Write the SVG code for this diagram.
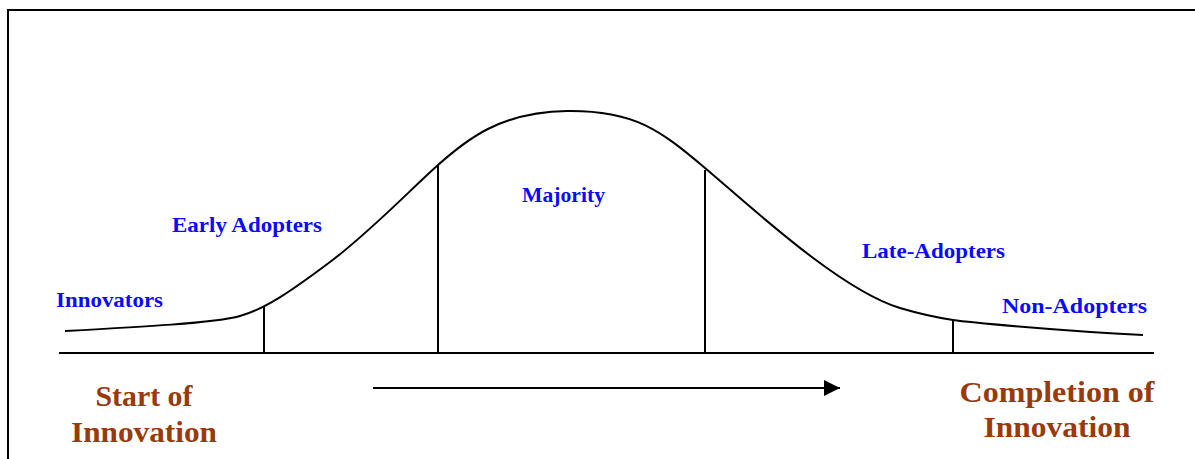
<svg xmlns="http://www.w3.org/2000/svg" width="1195" height="459" viewBox="0 0 1195 459">
<defs>
<style>
.ln{stroke:#000;stroke-width:2;fill:none}
.lbl{font-family:"Liberation Serif",serif;font-weight:bold;font-size:21px;fill:#0a0aff}
.big{font-family:"Liberation Serif",serif;font-weight:bold;font-size:30px;fill:#983a0c;text-anchor:middle}
</style>
<marker id="ah" markerWidth="16" markerHeight="16" refX="16" refY="8" orient="auto" markerUnits="userSpaceOnUse">
<path d="M0,0 L16,8 L0,16 Z" fill="#000"/>
</marker>
</defs>
<rect width="1195" height="459" fill="#fff"/>
<path class="ln" d="M8,459 L8,10 L1195,10"/>
<g id="axis">
<line class="ln" x1="59" y1="353" x2="1154" y2="353"/>
</g>
<g id="curve">
<path class="ln" d="M65,331 C140,327 215,323 240,316 S290,292 330,262 S410,190 438,165 S500,112 567,111 S660,130 705,168 S840,290 900,308 C920,314 940,318 953,320 S1060,331 1143,335"/>
</g>
<g id="dividers">
<line class="ln" x1="264" y1="307" x2="264" y2="353"/>
<line class="ln" x1="438" y1="165" x2="438" y2="353"/>
<line class="ln" x1="705" y1="170" x2="705" y2="353"/>
<line class="ln" x1="953" y1="320" x2="953" y2="353"/>
</g>
<g id="connectors">
<line class="ln" x1="373" y1="388" x2="840" y2="388" marker-end="url(#ah)"/>
</g>
<g id="innovators"><text class="lbl" x="56" y="307" textLength="107" lengthAdjust="spacingAndGlyphs">Innovators</text></g>
<g id="early-adopters"><text class="lbl" x="172" y="232" textLength="150" lengthAdjust="spacingAndGlyphs">Early Adopters</text></g>
<g id="majority"><text class="lbl" x="522" y="202" textLength="83" lengthAdjust="spacingAndGlyphs">Majority</text></g>
<g id="late-adopters"><text class="lbl" x="862" y="258" textLength="143" lengthAdjust="spacingAndGlyphs">Late-Adopters</text></g>
<g id="non-adopters"><text class="lbl" x="1002" y="313" textLength="145" lengthAdjust="spacingAndGlyphs">Non-Adopters</text></g>
<g id="start">
<text class="big" x="144" y="406" textLength="97" lengthAdjust="spacingAndGlyphs">Start of</text>
<text class="big" x="144" y="442" textLength="146" lengthAdjust="spacingAndGlyphs">Innovation</text>
</g>
<g id="completion">
<text class="big" x="1057" y="402" textLength="195" lengthAdjust="spacingAndGlyphs">Completion of</text>
<text class="big" x="1057" y="437" textLength="147" lengthAdjust="spacingAndGlyphs">Innovation</text>
</g>
</svg>
